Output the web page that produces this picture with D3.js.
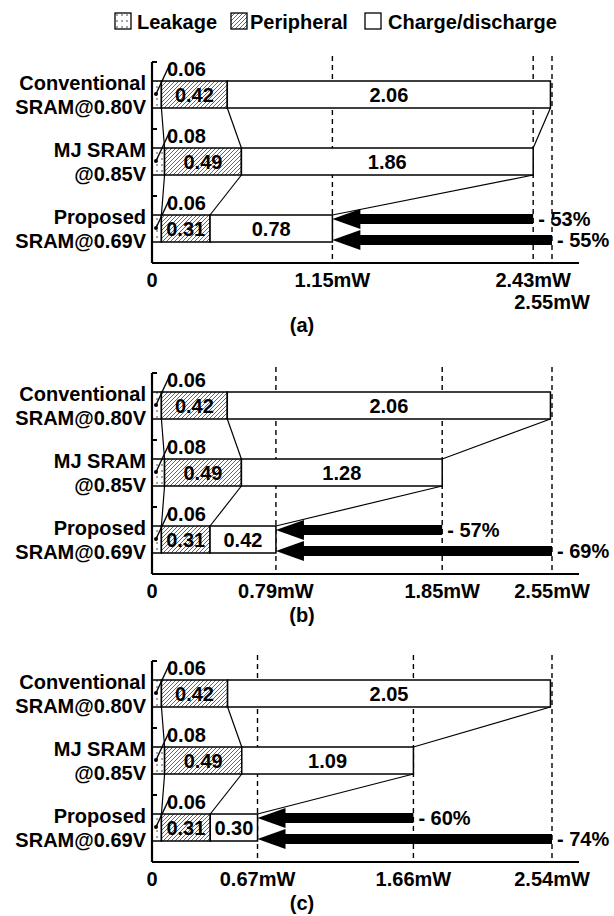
<!DOCTYPE html>
<html>
<head>
<meta charset="utf-8">
<script src="https://cdn.jsdelivr.net/npm/d3@7"></script>
<style>
  body { margin: 0; background: #fff; }
  svg text { font-family: "Liberation Sans", Arial, sans-serif; font-weight: bold; fill: #000; }
</style>
</head>
<body>
<svg id="chart"></svg>
<script>
// rows (two-line labels), same for every panel
var rowLabels = [["Conventional", "SRAM@0.80V"], ["MJ SRAM", "@0.85V"], ["Proposed", "SRAM@0.69V"]];
var legendNames = ["Leakage", "Peripheral", "Charge/discharge"];

// power components in mW
var leakage = [0.06, 0.08, 0.06];
var peripheral = [0.42, 0.49, 0.31];
var chargeA = [2.06, 1.86, 0.78];
var chargeB = [2.06, 1.28, 0.42];
var chargeC = [2.05, 1.09, 0.30];

// totals shown on the x axis (proposed, MJ, conventional)
var ticksA = [1.15, 2.43, 2.55];
var ticksB = [0.79, 1.85, 2.55];
var ticksC = [0.67, 1.66, 2.54];

// savings of proposed vs MJ and vs conventional
var savingsA = ["- 53%", "- 55%"];
var savingsB = ["- 57%", "- 69%"];
var savingsC = ["- 60%", "- 74%"];

var panels = [
  { name: "(a)", charge: chargeA, ticks: ticksA, savings: savingsA, top: 62 },
  { name: "(b)", charge: chargeB, ticks: ticksB, savings: savingsB, top: 373 },
  { name: "(c)", charge: chargeC, ticks: ticksC, savings: savingsC, top: 661 }
];

var W = 614, H = 916;
var x0 = 152, x1 = 552;
var bandH = 67, barOff = 19, barH = 27;

var svg = d3.select("#chart").attr("width", W).attr("height", H);

// fill patterns
var defs = svg.append("defs");
var hatch = defs.append("pattern").attr("id", "hatch")
  .attr("patternUnits", "userSpaceOnUse").attr("width", 4).attr("height", 4);
hatch.append("rect").attr("width", 4).attr("height", 4).attr("fill", "#fff");
hatch.append("path").attr("d", "M-1,1 L1,-1 M0,4 L4,0 M3,5 L5,3")
  .attr("stroke", "#555").attr("stroke-width", 0.9);

var dots = defs.append("pattern").attr("id", "dots")
  .attr("patternUnits", "userSpaceOnUse").attr("width", 5).attr("height", 6);
dots.append("rect").attr("width", 5).attr("height", 6).attr("fill", "#fff");
dots.append("circle").attr("cx", 2).attr("cy", 3).attr("r", 0.8).attr("fill", "#333");

var fills = ["url(#dots)", "url(#hatch)", "#fff"];

// legend
var legendX = [[115, 137], [231, 250], [365, 388]];
legendNames.forEach(function(n, i) {
  svg.append("rect").attr("x", legendX[i][0]).attr("y", 13).attr("width", 16).attr("height", 16)
    .attr("fill", fills[i]).attr("stroke", "#000").attr("stroke-width", 1.3);
  svg.append("text").attr("x", legendX[i][1]).attr("y", 29).attr("font-size", 20).text(n);
});

panels.forEach(function(p) {
  var g = svg.append("g");
  var top = p.top, bottom = top + bandH * 3;
  var x = d3.scaleLinear().domain([0, p.ticks[2]]).range([x0, x1]);
  var y = d3.scaleBand().domain(d3.range(3)).range([top, bottom]).padding(0);
  var barTop = function(i) { return y(i) + barOff; };

  // stacked segments
  var rows = d3.range(3).map(function(i) {
    var vals = [leakage[i], peripheral[i], p.charge[i]];
    var acc = 0;
    return vals.map(function(v, k) {
      var s = { k: k, v: v, a: acc, b: acc + v, row: i };
      acc += v;
      return s;
    });
  });

  // dashed reference lines
  g.selectAll(".ref").data(p.ticks).enter().append("line")
    .attr("x1", function(d) { return x(d); }).attr("x2", function(d) { return x(d); })
    .attr("y1", top - 6).attr("y2", bottom)
    .attr("stroke", "#000").attr("stroke-width", 1.4).attr("stroke-dasharray", "5,4");

  // connector lines between bars
  for (var i = 0; i < 2; i++) {
    rows[i].forEach(function(s, k) {
      g.append("line")
        .attr("x1", x(s.b)).attr("y1", barTop(i) + barH)
        .attr("x2", x(rows[i + 1][k].b)).attr("y2", barTop(i + 1))
        .attr("stroke", "#000").attr("stroke-width", 1.2);
    });
  }

  // bars
  rows.forEach(function(r, i) {
    g.selectAll(".seg" + i).data(r).enter().append("rect")
      .attr("x", function(d) { return x(d.a); })
      .attr("y", barTop(i))
      .attr("width", function(d) { return x(d.b) - x(d.a); })
      .attr("height", barH)
      .attr("fill", function(d) { return fills[d.k]; })
      .attr("stroke", "#000").attr("stroke-width", 1.5);

    // labels for peripheral and charge inside bars
    g.selectAll(".lab" + i).data(r.slice(1)).enter().append("text")
      .attr("x", function(d) { return (x(d.a) + x(d.b)) / 2; })
      .attr("y", barTop(i) + barH / 2 + 7)
      .attr("text-anchor", "middle").attr("font-size", 20)
      .text(function(d) { return d.v.toFixed(2); });

    // leakage callout
    var lx = x(r[0].a) + 4, ly = barTop(i) + 13;
    g.append("line").attr("x1", 170).attr("y1", barTop(i) - 17).attr("x2", lx).attr("y2", ly)
      .attr("stroke", "#000").attr("stroke-width", 1.4);
    g.append("circle").attr("cx", lx).attr("cy", ly).attr("r", 2).attr("fill", "#000");
    g.append("text").attr("x", 167).attr("y", barTop(i) - 5).attr("font-size", 20)
      .text(leakage[i].toFixed(2));

    // row labels
    var cy = barTop(i) + barH / 2;
    g.append("text").attr("x", 146).attr("y", cy - 5).attr("text-anchor", "end")
      .attr("font-size", 20).text(rowLabels[i][0]);
    g.append("text").attr("x", 146).attr("y", cy + 19).attr("text-anchor", "end")
      .attr("font-size", 20).text(rowLabels[i][1]);
  });

  // savings arrows (from MJ and conventional totals to proposed total)
  var tip = x(p.ticks[0]);
  [p.ticks[1], p.ticks[2]].forEach(function(src, j) {
    var cy = barTop(2) + (j === 0 ? 4 : 25);
    var xs = x(src);
    g.append("rect").attr("x", tip + 26).attr("y", cy - 5).attr("width", xs - tip - 26).attr("height", 10)
      .attr("fill", "#000");
    g.append("path")
      .attr("d", "M" + tip + "," + cy + " L" + (tip + 28) + "," + (cy - 10) + " L" + (tip + 28) + "," + (cy + 10) + " Z")
      .attr("fill", "#000");
    g.append("text").attr("x", xs + 5).attr("y", cy + 7).attr("font-size", 20).text(p.savings[j]);
  });

  // axes
  g.append("line").attr("x1", x0).attr("x2", 579).attr("y1", bottom).attr("y2", bottom)
    .attr("stroke", "#000").attr("stroke-width", 2.2);
  g.append("line").attr("x1", x0).attr("x2", x0).attr("y1", top).attr("y2", bottom)
    .attr("stroke", "#000").attr("stroke-width", 2.2);
  g.selectAll(".ytick").data(d3.range(3)).enter().append("line")
    .attr("x1", x0).attr("x2", x0 + 5)
    .attr("y1", function(d) { return y(d); }).attr("y2", function(d) { return y(d); })
    .attr("stroke", "#000").attr("stroke-width", 2);

  // x tick labels (a crowded label drops to a second line)
  var tickVals = [0].concat(p.ticks);
  var lastRight = -Infinity;
  tickVals.forEach(function(t) {
    var txt = t === 0 ? "0" : t.toFixed(2) + "mW";
    var el = g.append("text").attr("x", x(t)).attr("y", bottom + 24)
      .attr("text-anchor", "middle").attr("font-size", 20).text(txt);
    var bb = el.node().getBBox();
    if (bb.x < lastRight) {
      el.attr("y", bottom + 46);
    } else {
      lastRight = bb.x + bb.width;
    }
  });

  // caption
  var capY = p.name === "(a)" ? bottom + 69 : bottom + 48;
  g.append("text").attr("x", 302).attr("y", capY).attr("text-anchor", "middle")
    .attr("font-size", 20).text(p.name);
});
</script>
</body>
</html>
